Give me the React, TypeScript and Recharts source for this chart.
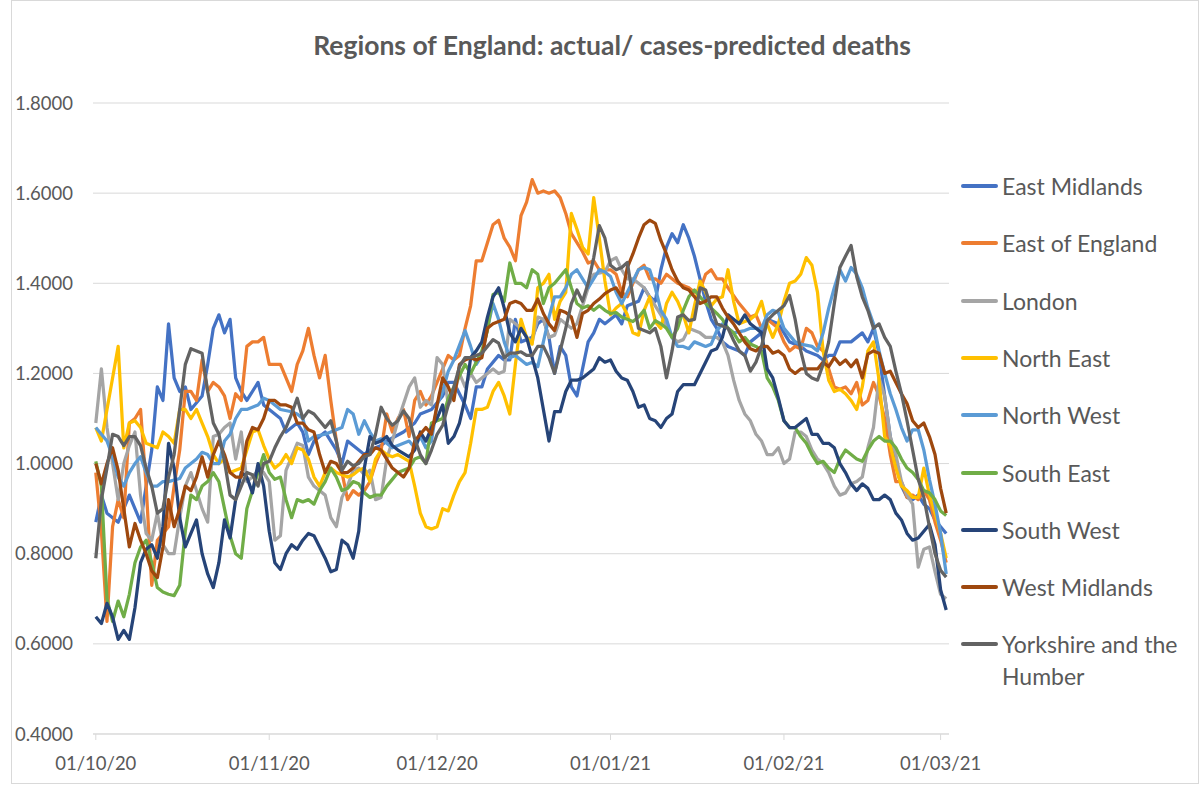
import { CartesianGrid, Line, LineChart, XAxis, YAxis } from "recharts";

// days since 01/10/20, tick labels on the date axis
const monthTicks = [0, 31, 61, 92, 123, 151];
const monthLabels = ["01/10/20", "01/11/20", "01/12/20", "01/01/21", "01/02/21", "01/03/21"];
const yTicks = [0.4, 0.6, 0.8, 1.0, 1.2, 1.4, 1.6, 1.8];

// [day, actual / cases-predicted deaths]
const eastMidlands: [number, number][] = [
    [0, 0.87], [1, 0.93], [2, 0.89], [4, 0.87], [6, 0.93], [8, 0.87], [10, 1.03], [11, 1.17], [12, 1.14], [13, 1.31],
    [14, 1.19], [15, 1.16], [16, 1.17], [17, 1.12], [19, 1.15], [20, 1.22], [21, 1.3], [22, 1.33], [23, 1.29], [24, 1.32],
    [25, 1.19], [26, 1.16], [27, 1.14], [29, 1.18], [30, 1.13], [31, 1.12], [33, 1.1], [34, 1.07], [35, 1.08], [36, 1.09],
    [37, 1.07], [38, 1.02], [39, 1.05], [41, 1.07], [42, 1.05], [43, 1.03], [44, 1.0], [45, 1.05], [46, 1.04], [48, 1.02],
    [49, 1.03], [51, 1.04], [52, 1.05], [55, 1.07], [57, 1.09], [58, 1.11], [60, 1.12], [62, 1.15], [63, 1.18], [64, 1.18],
    [66, 1.13], [67, 1.1], [68, 1.17], [69, 1.17], [70, 1.21], [72, 1.24], [73, 1.23], [74, 1.23], [75, 1.32], [76, 1.27],
    [78, 1.28], [79, 1.31], [80, 1.32], [81, 1.28], [82, 1.2], [83, 1.26], [84, 1.24], [85, 1.17], [86, 1.15], [87, 1.21],
    [88, 1.27], [89, 1.29], [90, 1.32], [91, 1.31], [93, 1.33], [94, 1.31], [95, 1.35], [97, 1.36], [98, 1.39], [99, 1.37],
    [100, 1.36], [101, 1.43], [102, 1.48], [103, 1.51], [104, 1.49], [105, 1.53], [106, 1.5], [107, 1.46], [108, 1.41],
    [109, 1.36], [110, 1.32], [111, 1.3], [112, 1.27], [113, 1.26], [114, 1.255], [115, 1.25], [116, 1.24], [117, 1.27],
    [118, 1.28], [119, 1.29], [120, 1.32], [122, 1.31], [123, 1.29], [124, 1.27], [126, 1.26], [127, 1.25], [129, 1.24],
    [130, 1.23], [131, 1.24], [132, 1.24], [133, 1.27], [135, 1.27], [136, 1.28], [137, 1.29], [138, 1.27], [139, 1.3],
    [140, 1.245], [141, 1.15], [142, 1.06], [143, 1.0], [144, 0.95], [145, 0.925], [146, 0.92], [147, 0.93], [148, 0.91],
    [149, 0.9], [150, 0.875], [151, 0.86], [152, 0.845],
];

const eastOfEngland: [number, number][] = [
    [0, 0.98], [1, 0.85], [2, 0.65], [3, 0.86], [4, 0.92], [5, 0.88], [6, 1.09], [7, 1.1], [8, 1.12], [9, 0.95],
    [10, 0.73], [11, 0.83], [12, 0.845], [13, 0.86], [14, 0.95], [15, 1.03], [16, 1.16], [17, 1.16], [18, 1.14], [19, 1.23],
    [20, 1.16], [21, 1.18], [22, 1.17], [23, 1.15], [24, 1.1], [25, 1.155], [26, 1.14], [27, 1.26], [28, 1.27], [29, 1.27],
    [30, 1.28], [31, 1.22], [32, 1.22], [33, 1.22], [34, 1.19], [35, 1.16], [36, 1.22], [37, 1.25], [38, 1.3], [39, 1.24],
    [40, 1.19], [41, 1.24], [42, 1.14], [43, 1.05], [44, 0.98], [45, 0.92], [46, 0.94], [47, 0.93], [48, 0.94], [49, 0.96],
    [50, 1.0], [51, 1.03], [52, 1.11], [53, 1.07], [54, 1.1], [55, 1.12], [56, 1.06], [57, 1.14], [58, 1.16], [59, 1.13],
    [60, 1.15], [61, 1.18], [62, 1.21], [63, 1.24], [64, 1.23], [65, 1.24], [66, 1.3], [67, 1.35], [68, 1.45], [69, 1.45],
    [70, 1.49], [71, 1.53], [72, 1.54], [73, 1.5], [74, 1.48], [75, 1.45], [76, 1.55], [77, 1.58], [78, 1.63], [79, 1.6],
    [80, 1.605], [81, 1.6], [82, 1.605], [83, 1.59], [84, 1.555], [85, 1.51], [86, 1.49], [87, 1.47], [88, 1.445], [89, 1.45],
    [90, 1.43], [92, 1.43], [93, 1.42], [94, 1.38], [95, 1.37], [97, 1.43], [98, 1.44], [99, 1.41], [100, 1.41], [101, 1.4],
    [102, 1.42], [103, 1.41], [104, 1.4], [106, 1.39], [107, 1.38], [108, 1.385], [109, 1.42], [110, 1.43], [111, 1.41],
    [112, 1.41], [113, 1.39], [115, 1.355], [116, 1.34], [117, 1.325], [118, 1.33], [119, 1.3], [120, 1.32], [122, 1.3],
    [123, 1.27], [124, 1.25], [125, 1.26], [126, 1.255], [127, 1.3], [128, 1.29], [129, 1.26], [130, 1.25], [131, 1.21],
    [132, 1.17], [133, 1.165], [134, 1.17], [135, 1.155], [136, 1.18], [137, 1.13], [138, 1.14], [139, 1.18], [140, 1.15],
    [141, 1.1], [142, 1.02], [143, 0.96], [144, 0.96], [145, 0.925], [146, 0.93], [147, 0.92], [148, 0.94], [149, 0.92],
    [150, 0.87], [151, 0.83], [152, 0.78],
];

const london: [number, number][] = [
    [0, 1.09], [1, 1.21], [2, 1.08], [3, 1.0], [4, 0.92], [5, 1.0], [6, 1.04], [7, 1.07], [8, 0.93], [9, 0.845],
    [10, 0.83], [11, 0.89], [12, 0.82], [13, 0.8], [14, 0.8], [15, 0.88], [16, 0.95], [17, 0.98], [18, 0.94], [19, 0.9],
    [20, 0.87], [21, 1.06], [22, 1.065], [23, 1.08], [24, 1.09], [25, 1.01], [26, 1.07], [27, 0.96], [28, 0.97], [29, 0.985],
    [30, 0.98], [31, 0.96], [32, 0.83], [33, 0.84], [34, 0.985], [36, 1.045], [37, 1.04], [38, 0.97], [39, 0.95], [41, 0.93],
    [42, 0.88], [43, 0.86], [44, 0.925], [45, 0.95], [46, 0.985], [47, 0.99], [48, 0.975], [49, 0.985], [50, 0.92],
    [51, 0.925], [52, 1.01], [53, 1.05], [54, 1.095], [56, 1.17], [57, 1.19], [58, 1.125], [59, 1.14], [60, 1.13],
    [61, 1.235], [62, 1.22], [63, 1.13], [64, 1.15], [65, 1.2], [66, 1.17], [67, 1.2], [68, 1.18], [69, 1.19], [71, 1.21],
    [72, 1.2], [73, 1.205], [74, 1.32], [76, 1.3], [77, 1.28], [78, 1.27], [79, 1.325], [80, 1.32], [81, 1.28], [82, 1.285],
    [83, 1.32], [85, 1.3], [86, 1.31], [87, 1.35], [88, 1.39], [89, 1.42], [91, 1.425], [92, 1.45], [93, 1.457], [94, 1.43],
    [95, 1.41], [96, 1.41], [97, 1.4], [98, 1.39], [99, 1.37], [101, 1.33], [103, 1.28], [104, 1.27], [105, 1.275],
    [106, 1.3], [107, 1.295], [108, 1.29], [109, 1.28], [111, 1.28], [112, 1.27], [113, 1.24], [114, 1.185], [115, 1.14],
    [116, 1.11], [117, 1.095], [118, 1.065], [119, 1.05], [120, 1.02], [121, 1.02], [122, 1.035], [123, 1.0], [124, 1.01],
    [125, 1.07], [126, 1.07], [127, 1.06], [128, 1.03], [129, 1.01], [130, 1.0], [131, 0.98], [132, 0.95], [133, 0.93],
    [134, 0.935], [135, 0.955], [136, 0.96], [137, 0.97], [138, 1.035], [139, 1.08], [140, 1.19], [141, 1.15], [142, 1.06],
    [143, 1.02], [144, 0.96], [145, 0.93], [146, 0.91], [147, 0.77], [148, 0.81], [149, 0.815], [150, 0.76], [151, 0.71],
    [152, 0.7],
];

const northEast: [number, number][] = [
    [0, 1.08], [1, 1.05], [2, 1.12], [3, 1.19], [4, 1.26], [5, 1.035], [6, 1.09], [7, 1.095], [8, 1.08], [9, 1.045],
    [10, 1.04], [11, 1.035], [12, 1.07], [13, 1.06], [14, 1.045], [15, 1.12], [16, 1.12], [17, 1.1], [18, 1.12], [19, 1.09],
    [20, 1.06], [21, 1.02], [22, 1.0], [23, 1.01], [24, 0.98], [26, 0.99], [27, 1.03], [28, 1.07], [29, 1.075], [30, 1.04],
    [31, 1.01], [32, 0.99], [33, 1.0], [34, 1.02], [35, 1.0], [36, 1.035], [37, 1.03], [38, 1.01], [39, 0.97], [40, 0.95],
    [41, 0.98], [42, 0.99], [43, 0.98], [44, 0.975], [45, 0.97], [46, 0.975], [47, 0.985], [48, 0.99], [49, 0.96],
    [50, 1.01], [51, 1.03], [52, 1.02], [53, 1.015], [54, 1.02], [56, 1.005], [57, 0.95], [58, 0.89], [59, 0.86],
    [60, 0.855], [61, 0.86], [62, 0.9], [63, 0.895], [64, 0.93], [65, 0.96], [66, 0.98], [67, 1.045], [68, 1.12], [69, 1.12],
    [70, 1.125], [71, 1.16], [72, 1.18], [73, 1.15], [74, 1.11], [75, 1.22], [76, 1.32], [77, 1.28], [78, 1.265], [79, 1.39],
    [80, 1.4], [81, 1.42], [82, 1.32], [83, 1.36], [84, 1.38], [85, 1.555], [86, 1.52], [87, 1.48], [88, 1.465], [89, 1.59],
    [90, 1.5], [91, 1.405], [92, 1.33], [93, 1.345], [94, 1.355], [95, 1.33], [96, 1.29], [97, 1.285], [98, 1.34], [99, 1.37],
    [100, 1.315], [101, 1.3], [102, 1.355], [103, 1.38], [104, 1.36], [105, 1.33], [106, 1.29], [107, 1.35], [108, 1.405],
    [109, 1.38], [110, 1.35], [111, 1.365], [112, 1.37], [113, 1.43], [114, 1.36], [115, 1.31], [116, 1.315], [117, 1.32],
    [118, 1.33], [119, 1.36], [120, 1.31], [121, 1.28], [122, 1.31], [123, 1.36], [124, 1.4], [125, 1.405], [126, 1.42],
    [127, 1.457], [128, 1.44], [129, 1.38], [130, 1.25], [131, 1.185], [132, 1.16], [133, 1.165], [134, 1.155], [135, 1.14],
    [136, 1.12], [137, 1.17], [138, 1.25], [139, 1.27], [140, 1.185], [141, 1.06], [142, 1.04], [143, 0.99], [144, 0.95],
    [145, 0.94], [146, 0.925], [147, 0.925], [148, 0.99], [149, 0.93], [150, 0.89], [151, 0.845], [152, 0.79],
];

const northWest: [number, number][] = [
    [0, 1.08], [1, 1.065], [2, 1.05], [3, 1.015], [4, 0.97], [5, 0.95], [6, 0.98], [7, 1.0], [8, 1.015], [9, 0.98],
    [10, 0.95], [11, 0.95], [12, 0.96], [13, 0.96], [15, 0.967], [16, 0.99], [18, 1.01], [19, 1.025], [20, 1.02], [21, 1.0],
    [22, 1.0], [23, 1.05], [24, 1.065], [25, 1.1], [26, 1.12], [27, 1.12], [29, 1.13], [30, 1.145], [31, 1.14], [32, 1.13],
    [33, 1.12], [35, 1.115], [36, 1.11], [37, 1.1], [38, 1.05], [39, 1.06], [41, 1.065], [42, 1.07], [43, 1.075], [44, 1.08],
    [45, 1.12], [46, 1.11], [47, 1.065], [48, 1.095], [49, 1.07], [50, 1.05], [51, 1.055], [52, 1.045], [53, 1.035],
    [54, 1.04], [56, 1.05], [57, 1.035], [58, 1.06], [59, 1.035], [60, 1.05], [61, 1.13], [62, 1.16], [63, 1.205], [64, 1.23],
    [66, 1.295], [67, 1.26], [68, 1.22], [69, 1.24], [70, 1.3], [71, 1.355], [72, 1.32], [73, 1.27], [74, 1.235], [75, 1.24],
    [76, 1.23], [77, 1.22], [78, 1.225], [79, 1.215], [80, 1.27], [81, 1.325], [82, 1.37], [83, 1.37], [84, 1.39], [85, 1.42],
    [86, 1.43], [87, 1.41], [88, 1.39], [90, 1.43], [91, 1.425], [92, 1.415], [93, 1.38], [94, 1.355], [95, 1.38], [97, 1.43],
    [98, 1.435], [99, 1.43], [100, 1.39], [101, 1.34], [102, 1.32], [103, 1.28], [104, 1.26], [105, 1.26], [106, 1.255],
    [107, 1.27], [108, 1.265], [109, 1.26], [110, 1.265], [111, 1.295], [112, 1.31], [113, 1.3], [114, 1.29], [116, 1.295],
    [117, 1.3], [119, 1.3], [120, 1.33], [121, 1.34], [122, 1.335], [123, 1.3], [124, 1.285], [125, 1.27], [126, 1.265],
    [128, 1.26], [129, 1.25], [130, 1.29], [131, 1.345], [132, 1.39], [133, 1.43], [134, 1.405], [135, 1.435], [136, 1.42],
    [137, 1.39], [138, 1.345], [139, 1.31], [140, 1.25], [141, 1.2], [142, 1.155], [143, 1.12], [144, 1.08], [145, 1.05],
    [146, 1.075], [147, 1.075], [148, 1.03], [149, 0.965], [150, 0.91], [151, 0.845], [152, 0.755],
];

const southEast: [number, number][] = [
    [0, 1.005], [1, 0.95], [2, 0.7], [3, 0.65], [4, 0.695], [5, 0.66], [6, 0.71], [7, 0.78], [8, 0.815], [9, 0.83],
    [10, 0.78], [11, 0.725], [12, 0.715], [13, 0.71], [14, 0.707], [15, 0.73], [16, 0.85], [17, 0.93], [18, 0.92],
    [19, 0.95], [20, 0.96], [21, 0.98], [22, 0.96], [23, 0.9], [24, 0.84], [25, 0.8], [26, 0.79], [27, 0.9], [28, 0.94],
    [29, 0.98], [30, 1.02], [31, 0.98], [32, 0.965], [33, 0.97], [34, 0.92], [35, 0.88], [36, 0.92], [37, 0.915], [38, 0.92],
    [39, 0.91], [40, 0.94], [41, 0.96], [42, 0.99], [43, 0.97], [44, 0.94], [45, 0.945], [46, 0.96], [47, 0.955],
    [48, 0.935], [49, 0.925], [50, 0.93], [51, 0.93], [52, 0.95], [53, 0.965], [54, 0.98], [55, 0.985], [56, 0.99],
    [57, 1.01], [58, 1.015], [59, 1.0], [60, 1.09], [62, 1.1], [63, 1.145], [64, 1.17], [66, 1.22], [67, 1.2], [69, 1.25],
    [70, 1.295], [71, 1.375], [72, 1.38], [73, 1.36], [74, 1.445], [75, 1.4], [76, 1.4], [77, 1.39], [78, 1.43], [79, 1.42],
    [80, 1.355], [81, 1.39], [82, 1.4], [83, 1.415], [84, 1.43], [85, 1.39], [86, 1.355], [87, 1.345], [88, 1.35],
    [89, 1.34], [90, 1.35], [91, 1.34], [92, 1.333], [93, 1.335], [94, 1.325], [95, 1.32], [96, 1.315], [97, 1.325],
    [98, 1.34], [99, 1.3], [100, 1.317], [101, 1.31], [102, 1.3], [103, 1.28], [104, 1.3], [105, 1.34], [106, 1.37],
    [107, 1.385], [108, 1.37], [109, 1.355], [110, 1.345], [111, 1.333], [112, 1.32], [113, 1.3], [114, 1.29], [115, 1.27],
    [116, 1.28], [117, 1.265], [118, 1.26], [119, 1.25], [120, 1.19], [121, 1.17], [122, 1.14], [123, 1.095], [124, 1.08],
    [125, 1.08], [126, 1.06], [127, 1.045], [128, 1.02], [129, 1.0], [130, 1.005], [131, 0.99], [132, 0.98], [133, 1.01],
    [134, 1.03], [135, 1.02], [136, 1.01], [137, 1.005], [138, 1.03], [139, 1.05], [140, 1.06], [141, 1.05], [142, 1.05],
    [143, 1.035], [144, 1.01], [145, 0.99], [146, 0.98], [147, 0.965], [148, 0.94], [149, 0.935], [150, 0.92], [151, 0.895],
    [152, 0.885],
];

const southWest: [number, number][] = [
    [0, 0.66], [1, 0.645], [2, 0.69], [3, 0.66], [4, 0.61], [5, 0.63], [6, 0.61], [7, 0.68], [8, 0.78], [9, 0.81],
    [10, 0.82], [11, 0.79], [12, 0.86], [13, 1.045], [14, 0.99], [15, 0.88], [16, 0.815], [17, 0.845], [18, 0.875],
    [19, 0.8], [20, 0.755], [21, 0.725], [22, 0.78], [23, 0.875], [24, 0.835], [25, 0.92], [26, 0.98], [27, 0.97],
    [28, 0.935], [29, 1.0], [30, 0.95], [31, 0.85], [32, 0.78], [33, 0.765], [34, 0.8], [35, 0.82], [36, 0.81], [37, 0.83],
    [38, 0.845], [39, 0.84], [40, 0.815], [41, 0.79], [42, 0.76], [43, 0.765], [44, 0.83], [45, 0.82], [46, 0.79],
    [47, 0.85], [48, 0.99], [49, 1.06], [50, 1.045], [51, 1.05], [52, 1.06], [53, 1.04], [54, 1.03], [56, 1.015],
    [57, 1.03], [58, 1.07], [59, 1.05], [60, 1.08], [61, 1.1], [62, 1.13], [63, 1.045], [64, 1.06], [65, 1.09], [66, 1.145],
    [67, 1.235], [68, 1.25], [69, 1.27], [70, 1.325], [71, 1.37], [72, 1.39], [73, 1.345], [74, 1.29], [75, 1.27], [76, 1.3],
    [77, 1.28], [78, 1.235], [79, 1.19], [80, 1.12], [81, 1.05], [82, 1.115], [83, 1.115], [84, 1.16], [85, 1.185],
    [86, 1.185], [87, 1.19], [88, 1.2], [89, 1.21], [90, 1.235], [91, 1.225], [92, 1.23], [93, 1.205], [94, 1.19],
    [95, 1.185], [96, 1.16], [97, 1.125], [98, 1.13], [99, 1.1], [100, 1.095], [101, 1.08], [102, 1.1], [103, 1.11],
    [104, 1.16], [105, 1.175], [106, 1.175], [107, 1.175], [108, 1.2], [109, 1.225], [110, 1.25], [111, 1.255], [112, 1.28],
    [113, 1.33], [114, 1.32], [115, 1.31], [116, 1.33], [117, 1.31], [118, 1.3], [119, 1.29], [120, 1.21], [121, 1.19],
    [122, 1.145], [123, 1.095], [124, 1.08], [125, 1.08], [126, 1.09], [127, 1.1], [128, 1.065], [129, 1.065], [130, 1.045],
    [131, 1.045], [132, 1.035], [133, 1.0], [134, 0.98], [135, 0.955], [136, 0.94], [137, 0.955], [138, 0.945], [139, 0.92],
    [140, 0.92], [141, 0.93], [142, 0.92], [143, 0.89], [144, 0.875], [145, 0.845], [146, 0.83], [147, 0.835], [148, 0.85],
    [149, 0.865], [150, 0.82], [151, 0.72], [152, 0.675],
];

const westMidlands: [number, number][] = [
    [0, 1.0], [1, 0.955], [2, 1.0], [3, 1.035], [4, 0.985], [5, 0.9], [6, 0.815], [7, 0.867], [8, 0.83], [9, 0.8],
    [10, 0.762], [11, 0.747], [12, 0.815], [13, 0.92], [14, 0.86], [15, 0.9], [16, 0.95], [17, 0.94], [18, 0.97],
    [19, 1.015], [20, 0.97], [21, 1.02], [22, 1.05], [23, 1.02], [24, 0.98], [25, 0.97], [26, 0.97], [27, 1.05], [28, 1.08],
    [29, 1.075], [30, 1.1], [31, 1.14], [32, 1.14], [33, 1.13], [34, 1.13], [35, 1.125], [36, 1.09], [37, 1.09], [38, 1.075],
    [39, 1.07], [40, 1.02], [41, 0.98], [42, 1.005], [43, 1.0], [44, 0.98], [45, 0.98], [46, 0.99], [47, 1.005], [48, 1.02],
    [49, 1.02], [50, 1.035], [51, 1.03], [52, 1.01], [53, 0.99], [54, 0.98], [55, 0.97], [56, 0.99], [57, 1.05],
    [58, 1.065], [59, 1.08], [60, 1.065], [61, 1.13], [62, 1.19], [63, 1.17], [64, 1.14], [65, 1.22], [66, 1.23],
    [67, 1.235], [68, 1.23], [69, 1.235], [70, 1.3], [71, 1.31], [72, 1.315], [73, 1.32], [74, 1.355], [75, 1.36],
    [76, 1.355], [77, 1.34], [78, 1.34], [79, 1.365], [80, 1.333], [81, 1.31], [82, 1.295], [83, 1.34], [84, 1.335],
    [85, 1.325], [86, 1.28], [87, 1.333], [88, 1.34], [89, 1.355], [90, 1.365], [91, 1.377], [92, 1.385], [93, 1.39],
    [94, 1.37], [95, 1.435], [96, 1.465], [97, 1.5], [98, 1.53], [99, 1.54], [100, 1.533], [101, 1.495], [102, 1.465],
    [103, 1.43], [104, 1.405], [105, 1.39], [106, 1.385], [107, 1.37], [108, 1.355], [109, 1.36], [110, 1.37], [111, 1.37],
    [112, 1.345], [113, 1.325], [114, 1.31], [115, 1.29], [116, 1.27], [117, 1.255], [118, 1.25], [119, 1.26], [120, 1.26],
    [121, 1.245], [122, 1.25], [123, 1.24], [124, 1.21], [125, 1.2], [126, 1.21], [127, 1.21], [128, 1.21], [129, 1.21],
    [130, 1.225], [131, 1.215], [132, 1.235], [133, 1.22], [134, 1.23], [135, 1.215], [136, 1.23], [137, 1.19],
    [138, 1.243], [139, 1.25], [140, 1.245], [141, 1.2], [142, 1.205], [143, 1.18], [144, 1.155], [145, 1.133],
    [146, 1.095], [147, 1.08], [148, 1.09], [149, 1.06], [150, 1.02], [151, 0.945], [152, 0.89],
];

const yorkshire: [number, number][] = [
    [0, 0.79], [1, 0.92], [2, 0.99], [3, 1.065], [4, 1.06], [5, 1.04], [6, 1.06], [7, 1.06], [8, 1.04], [9, 0.99],
    [10, 0.95], [11, 0.89], [12, 0.9], [13, 0.97], [14, 1.02], [15, 1.12], [16, 1.22], [17, 1.255], [18, 1.25], [19, 1.245],
    [20, 1.16], [21, 1.09], [22, 1.065], [23, 1.005], [24, 0.93], [25, 0.92], [26, 0.95], [27, 0.98], [28, 0.975],
    [29, 0.95], [30, 1.0], [31, 1.005], [32, 1.035], [33, 1.06], [34, 1.08], [35, 1.11], [36, 1.145], [37, 1.1], [38, 1.117],
    [39, 1.11], [40, 1.095], [41, 1.08], [42, 1.095], [43, 1.05], [44, 0.985], [45, 1.005], [46, 0.995], [47, 1.0],
    [48, 1.015], [49, 1.02], [50, 1.065], [51, 1.125], [52, 1.1], [53, 1.085], [54, 1.095], [55, 1.117], [56, 1.1],
    [57, 1.055], [58, 1.02], [59, 1.0], [60, 1.03], [61, 1.065], [62, 1.085], [63, 1.13], [64, 1.17], [65, 1.215],
    [66, 1.235], [67, 1.235], [68, 1.24], [69, 1.245], [70, 1.26], [71, 1.275], [72, 1.267], [73, 1.235], [74, 1.245],
    [75, 1.245], [76, 1.248], [77, 1.24], [78, 1.24], [79, 1.26], [80, 1.26], [81, 1.235], [82, 1.2], [83, 1.25], [84, 1.3],
    [85, 1.355], [86, 1.385], [87, 1.36], [88, 1.4], [89, 1.457], [90, 1.528], [91, 1.5], [92, 1.44], [93, 1.43],
    [94, 1.435], [95, 1.446], [96, 1.37], [97, 1.3], [98, 1.295], [99, 1.29], [100, 1.3], [101, 1.26], [102, 1.19],
    [103, 1.25], [104, 1.325], [105, 1.33], [106, 1.317], [107, 1.32], [108, 1.39], [109, 1.385], [110, 1.345], [111, 1.31],
    [112, 1.305], [113, 1.3], [114, 1.273], [115, 1.25], [116, 1.24], [117, 1.205], [118, 1.225], [119, 1.26], [120, 1.317],
    [121, 1.33], [122, 1.34], [123, 1.35], [124, 1.373], [125, 1.32], [126, 1.25], [127, 1.2], [128, 1.19], [129, 1.185],
    [130, 1.22], [131, 1.27], [132, 1.355], [133, 1.435], [134, 1.46], [135, 1.484], [136, 1.415], [137, 1.37], [138, 1.34],
    [139, 1.3], [140, 1.31], [141, 1.28], [142, 1.26], [143, 1.205], [144, 1.155], [145, 1.095], [146, 1.03], [147, 0.965],
    [148, 0.925], [149, 0.86], [150, 0.8], [151, 0.763], [152, 0.748],
];

const series = [
    { name: "East Midlands", color: "#4472C4", points: eastMidlands },
    { name: "East of England", color: "#ED7D31", points: eastOfEngland },
    { name: "London", color: "#A5A5A5", points: london },
    { name: "North East", color: "#FFC000", points: northEast },
    { name: "North West", color: "#5B9BD5", points: northWest },
    { name: "South East", color: "#70AD47", points: southEast },
    { name: "South West", color: "#264478", points: southWest },
    { name: "West Midlands", color: "#9E480E", points: westMidlands },
    { name: "Yorkshire and the Humber", color: "#636363", points: yorkshire },
];

const textColor = "#595959";
const gridColor = "#D9D9D9";

export default function App() {
    return (
        <div
            style={{
                position: "absolute",
                left: 0,
                top: 0,
                width: 1200,
                height: 785,
                background: "#fff",
                fontFamily: "Lato, 'Open Sans', sans-serif",
                color: textColor,
            }}
        >
            <div
                style={{
                    position: "absolute",
                    left: 11,
                    top: 0,
                    width: 1188,
                    height: 784,
                    border: `1px solid ${gridColor}`,
                    boxSizing: "border-box",
                }}
            />
            <div
                style={{
                    position: "absolute",
                    left: 612,
                    top: 29,
                    transform: "translateX(-50%)",
                    whiteSpace: "nowrap",
                    fontSize: 26.5,
                    lineHeight: "32px",
                    fontWeight: 700,
                }}
            >
                Regions of England: actual/ cases-predicted deaths
            </div>

            <div style={{ position: "absolute", left: 0, top: 0 }}>
                <LineChart width={1200} height={785} margin={{ top: 103, right: 251, bottom: 11, left: 0 }}>
                    <CartesianGrid vertical={false} stroke={gridColor} strokeWidth={1} />
                    <XAxis
                        type="number"
                        dataKey="day"
                        domain={[-0.5, 152.5]}
                        allowDataOverflow
                        ticks={monthTicks}
                        interval={0}
                        tickFormatter={(d: number) => monthLabels[monthTicks.indexOf(d)]}
                        height={40}
                        stroke={gridColor}
                        tickSize={6}
                        tickMargin={17}
                        tick={{ fill: textColor, fontSize: 18.5 }}
                    />
                    <YAxis
                        type="number"
                        domain={[0.4, 1.8]}
                        ticks={yTicks}
                        interval={0}
                        width={93}
                        axisLine={false}
                        tickLine={false}
                        tickSize={0}
                        tickMargin={20}
                        tickFormatter={(v: number) => v.toFixed(4)}
                        tick={{ fill: textColor, fontSize: 18.5 }}
                    />
                    {series.map((s) => (
                        <Line
                            key={s.name}
                            data={s.points.map(([day, v]) => ({ day, [s.name]: v }))}
                            dataKey={s.name}
                            type="linear"
                            stroke={s.color}
                            strokeWidth={3.25}
                            strokeLinejoin="round"
                            dot={false}
                            activeDot={false}
                            isAnimationActive={false}
                        />
                    ))}
                </LineChart>
            </div>

            {series.map((s, i) => (
                <div
                    key={s.name}
                    style={{
                        position: "absolute",
                        left: 961,
                        top: 186 + i * 57.3 - 16,
                        width: 237,
                        display: "flex",
                        alignItems: "flex-start",
                    }}
                >
                    <div
                        style={{
                            width: 37,
                            height: 4,
                            marginTop: 14,
                            background: s.color,
                            borderRadius: 2,
                            flex: "none",
                        }}
                    />
                    <div style={{ marginLeft: 4, fontSize: 23, lineHeight: "32px", width: 192 }}>{s.name}</div>
                </div>
            ))}
        </div>
    );
}
